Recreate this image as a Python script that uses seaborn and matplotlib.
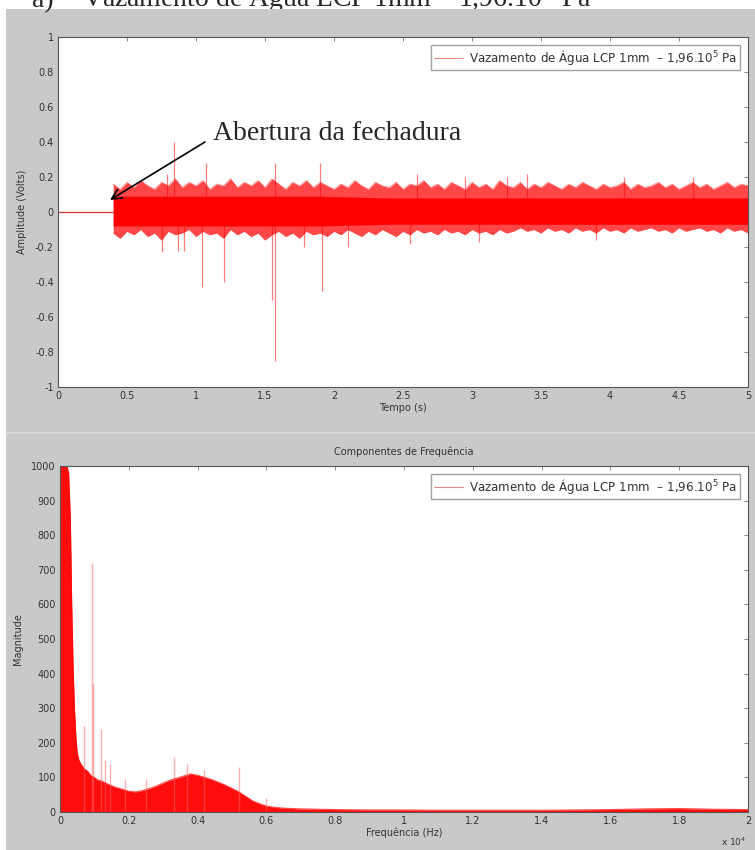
import numpy as np
import matplotlib
matplotlib.use("Agg")
import matplotlib.pyplot as plt
from matplotlib.lines import Line2D
from matplotlib.patches import Rectangle
import seaborn as sns
import pandas as pd

sns.set_style("white")
plt.rcParams["font.family"] = ["DejaVu Sans"]

# ---------------- time-domain signal (envelope every 0.05 s) ----------------
t_start = 0.40
t_env = np.round(np.arange(0.40, 5.001, 0.05), 2)
env_upper = [
    0.16, 0.13, 0.17, 0.14, 0.18, 0.15, 0.13, 0.17, 0.15, 0.19,
    0.14, 0.17, 0.15, 0.18, 0.13, 0.16, 0.15, 0.19, 0.14, 0.17,
    0.15, 0.18, 0.14, 0.19, 0.16, 0.13, 0.17, 0.15, 0.18, 0.14,
    0.17, 0.15, 0.13, 0.16, 0.14, 0.18, 0.15, 0.13, 0.17, 0.15,
    0.14, 0.17, 0.13, 0.16, 0.15, 0.18, 0.14, 0.16, 0.13, 0.17,
    0.15, 0.13, 0.17, 0.14, 0.16, 0.13, 0.18, 0.15, 0.14, 0.17,
    0.13, 0.16, 0.14, 0.17, 0.15, 0.13, 0.16, 0.14, 0.17, 0.15,
    0.13, 0.16, 0.14, 0.15, 0.17, 0.13, 0.16, 0.14, 0.15, 0.17,
    0.14, 0.16, 0.13, 0.15, 0.17, 0.14, 0.16, 0.13, 0.15, 0.17,
    0.14, 0.16, 0.15,
]
env_lower = [
    -0.12, -0.15, -0.11, -0.13, -0.10, -0.14, -0.12, -0.16, -0.11, -0.13,
    -0.12, -0.10, -0.14, -0.11, -0.13, -0.12, -0.15, -0.10, -0.13, -0.11,
    -0.14, -0.12, -0.16, -0.13, -0.11, -0.14, -0.12, -0.15, -0.11, -0.13,
    -0.12, -0.14, -0.11, -0.13, -0.10, -0.12, -0.14, -0.11, -0.13, -0.10,
    -0.12, -0.14, -0.11, -0.13, -0.10, -0.12, -0.11, -0.13, -0.10, -0.12,
    -0.11, -0.13, -0.10, -0.12, -0.11, -0.13, -0.10, -0.12, -0.11, -0.09,
    -0.11, -0.10, -0.12, -0.09, -0.11, -0.10, -0.12, -0.09, -0.11, -0.10,
    -0.12, -0.09, -0.11, -0.10, -0.12, -0.09, -0.11, -0.10, -0.09, -0.11,
    -0.10, -0.12, -0.09, -0.11, -0.10, -0.09, -0.11, -0.10, -0.12, -0.09,
    -0.11, -0.10, -0.12,
]
# dense core of the signal (every 0.5 s)
t_core = [0.40, 0.90, 1.40, 1.90, 2.40, 2.90, 3.40, 3.90, 4.40, 5.00]
core_upper = [0.09, 0.09, 0.09, 0.09, 0.08, 0.08, 0.08, 0.08, 0.08, 0.08]
core_lower = [-0.08, -0.08, -0.08, -0.08, -0.07, -0.07, -0.07, -0.07, -0.07, -0.07]

# isolated transients (time s, amplitude V)
spike_t = [0.79, 0.84, 1.07, 1.57, 1.90, 2.60, 2.95, 3.25, 3.40, 4.10, 4.60,
           0.75, 0.87, 0.91, 1.04, 1.20, 1.55, 1.57, 1.78, 1.91, 2.10, 2.55, 3.05, 3.90]
spike_v = [0.22, 0.40, 0.28, 0.28, 0.28, 0.22, 0.20, 0.20, 0.22, 0.20, 0.20,
           -0.23, -0.22, -0.22, -0.43, -0.40, -0.50, -0.85, -0.20, -0.45, -0.20, -0.18, -0.17, -0.16]

# ---------------- frequency spectrum (x 10^4 Hz) ----------------
freq = [0, 0.004, 0.008, 0.012, 0.016, 0.020, 0.025, 0.030, 0.034, 0.038, 0.042, 0.046, 0.050,
        0.055, 0.060, 0.070, 0.080, 0.090, 0.100, 0.110, 0.120, 0.130, 0.140, 0.150, 0.160,
        0.18, 0.20, 0.22, 0.24, 0.26, 0.28, 0.30, 0.32, 0.34, 0.36, 0.38, 0.40, 0.42, 0.44,
        0.46, 0.48, 0.50, 0.52, 0.54, 0.56, 0.58, 0.60, 0.62, 0.65, 0.70, 0.75, 0.80,
        0.9, 1.0, 1.1, 1.2, 1.3, 1.4, 1.5, 1.6, 1.7, 1.8, 1.9, 2.0]
mag = [1000, 1000, 1000, 1000, 1000, 1000, 980, 850, 600, 420, 300, 220, 170,
       150, 140, 125, 118, 105, 100, 92, 90, 85, 80, 76, 72,
       66, 60, 58, 62, 68, 75, 84, 92, 98, 104, 110, 106, 100, 94,
       86, 78, 68, 58, 45, 32, 24, 17, 14, 11, 9, 8, 7,
       6, 6, 5, 5, 5, 5, 6, 7, 9, 10, 8, 7]
peak_f = [0.070, 0.093, 0.097, 0.120, 0.130, 0.145, 0.190, 0.250, 0.330, 0.370, 0.420, 0.520, 0.600]
peak_m = [250, 720, 370, 240, 150, 140, 95, 95, 160, 140, 120, 130, 40]

legend_text = "Vazamento de Água LCP 1mm  – 1,96.10$^5$ Pa"

# ---------------- figure ----------------
W, H = 755, 850
fig = plt.figure(figsize=(W / 100, H / 100), dpi=100)
fig.patch.set_facecolor("white")
fig.add_artist(Rectangle((6 / W, 0), 1, 1 - 9 / H, transform=fig.transFigure,
                         facecolor="#c9c9c9", edgecolor="none", zorder=-10))
fig.add_artist(Line2D([6 / W, 1], [1 - 433 / H] * 2, transform=fig.transFigure,
                      color="#dadada", lw=1.2, zorder=-9))
fig.text(32 / W, 1 - 7 / H, "a)", fontsize=20, family="Liberation Serif", va="baseline")
fig.text(82 / W, 1 - 7 / H, "Vazamento de Água LCP 1mm – 1,96.10$^5$ Pa", fontsize=20,
         family="Liberation Serif", va="baseline", zorder=-20)

ax1 = fig.add_axes([58 / W, 1 - 387 / H, 690 / W, 350 / H])
ax2 = fig.add_axes([60 / W, 1 - 812 / H, 688 / W, 346 / H])

RED = "#ff0000"
TXT = "#333333"


def matlab_axes(ax):
    ax.set_facecolor("white")
    for s in ax.spines.values():
        s.set_color("#555555")
        s.set_linewidth(0.8)
        s.set_visible(True)
    ax.tick_params(direction="in", length=3, width=0.6, color="#777777",
                   top=True, right=True, labelsize=7, labelcolor=TXT, pad=3)


def fmt(v):
    if abs(v) < 1e-9:
        return "0"
    return f"{v:g}"


# --- time domain ---
flat = pd.DataFrame({"t": [0.0, t_start], "v": [0.0, 0.0]})
sns.lineplot(data=flat, x="t", y="v", ax=ax1, color="#e04040", lw=1.0)
ax1.fill_between(t_env, env_lower, env_upper, color=RED, alpha=0.72, lw=0)
env_df = pd.DataFrame({"t": t_env, "up": env_upper, "lo": env_lower})
sns.lineplot(data=env_df, x="t", y="up", ax=ax1, color="#ff4040", lw=0.6, alpha=0.6)
sns.lineplot(data=env_df, x="t", y="lo", ax=ax1, color="#ff4040", lw=0.6, alpha=0.6)
ax1.fill_between(t_core, core_lower, core_upper, color=RED, alpha=1.0, lw=0)
ax1.vlines(spike_t, 0, spike_v, color=RED, lw=0.9, alpha=0.5)

ax1.set_xlim(0, 5)
ax1.set_ylim(-1, 1)
xt = np.round(np.arange(0, 5.01, 0.5), 1)
ax1.set_xticks(xt)
ax1.set_xticklabels([fmt(v) for v in xt])
yt = np.round(np.arange(-1, 1.01, 0.2), 1)
ax1.set_yticks(yt)
ax1.set_yticklabels([fmt(v) for v in yt])
matlab_axes(ax1)
ax1.set_xlabel("Tempo (s)", fontsize=7, color=TXT, labelpad=1)
ax1.set_ylabel("Amplitude (Volts)", fontsize=7, color=TXT, labelpad=6)
h1 = Line2D([], [], color="#f08a8a", lw=0.8)
ax1.legend([h1], [legend_text], loc="upper right", fontsize=8.6, frameon=True,
           fancybox=False, edgecolor="#888888", handlelength=2.4, borderaxespad=0.7,
           borderpad=0.25, handletextpad=0.5, labelcolor=TXT)

# arrow and label for the lock opening
ax1.annotate("", xy=(0.377, 0.069), xytext=(1.065, 0.40),
             arrowprops=dict(arrowstyle="->", color="black", lw=1.2,
                             shrinkA=0, shrinkB=0, mutation_scale=18))
ax1.text(1.12, 0.45, "Abertura da fechadura", fontsize=20, family="Liberation Serif",
         va="center", ha="left")

# --- frequency domain ---
spec = pd.DataFrame({"f": freq, "m": mag})
ax2.fill_between(freq, 0, mag, color=RED, alpha=0.95, lw=0)
sns.lineplot(data=spec, x="f", y="m", ax=ax2, color=RED, lw=0.8, alpha=0.7)
ax2.vlines(peak_f, 0, peak_m, color="#ff6060", lw=1.0, alpha=0.5)
ax2.set_xlim(0, 2)
ax2.set_ylim(0, 1000)
ft = np.round(np.arange(0, 2.01, 0.2), 1)
ax2.set_xticks(ft)
ax2.set_xticklabels([fmt(v) for v in ft])
mt = np.arange(0, 1001, 100)
ax2.set_yticks(mt)
ax2.set_yticklabels([str(v) for v in mt])
matlab_axes(ax2)
ax2.set_xlabel("Frequência (Hz)", fontsize=7, color=TXT, labelpad=1)
ax2.set_ylabel("Magnitude", fontsize=7, color=TXT, labelpad=6)
ax2.set_title("Componentes de Frequência", fontsize=7, color=TXT, pad=8)
fig.text(746 / W, 1 - 842 / H, "x 10$^4$", ha="right", va="center",
         fontsize=6.5, color=TXT)
h2 = Line2D([], [], color="#f08a8a", lw=0.8)
ax2.legend([h2], [legend_text], loc="upper right", fontsize=8.6, frameon=True,
           fancybox=False, edgecolor="#888888", handlelength=2.4, borderaxespad=0.7,
           borderpad=0.25, handletextpad=0.5, labelcolor=TXT)

fig.savefig("out.png", dpi=100)
